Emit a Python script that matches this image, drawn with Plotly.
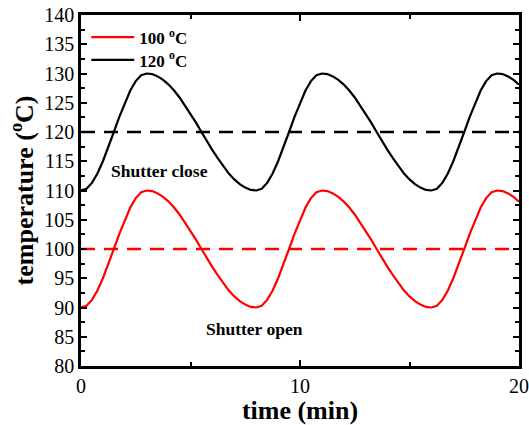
import plotly.graph_objects as go

time_min = [0, 0.25, 0.5, 0.75, 1, 1.25, 1.5, 1.75, 2, 2.25, 2.5, 2.75, 3, 3.25, 3.5, 3.75,
            4, 4.25, 4.5, 4.75, 5, 5.25, 5.5, 5.75, 6, 6.25, 6.5, 6.75, 7, 7.25, 7.5, 7.75,
            8, 8.25, 8.5, 8.75, 9, 9.25, 9.5, 9.75, 10, 10.25, 10.5, 10.75, 11, 11.25, 11.5, 11.75,
            12, 12.25, 12.5, 12.75, 13, 13.25, 13.5, 13.75, 14, 14.25, 14.5, 14.75, 15, 15.25, 15.5, 15.75,
            16, 16.25, 16.5, 16.75, 17, 17.25, 17.5, 17.75, 18, 18.25, 18.5, 18.75, 19, 19.25, 19.5, 19.75, 20]
temp_120 = [110, 110.3, 111.3, 112.9, 115, 117.4, 120, 122.6, 125, 127.1, 128.7, 129.7, 130, 129.9, 129.5, 128.9,
            128.1, 127.1, 125.9, 124.5, 123.1, 121.6, 120, 118.4, 116.9, 115.5, 114.1, 112.9, 111.9, 111.1, 110.5, 110.1,
            110, 110.3, 111.3, 112.9, 115, 117.4, 120, 122.6, 125, 127.1, 128.7, 129.7, 130, 129.9, 129.5, 128.9,
            128.1, 127.1, 125.9, 124.5, 123.1, 121.6, 120, 118.4, 116.9, 115.5, 114.1, 112.9, 111.9, 111.1, 110.5, 110.1,
            110, 110.3, 111.3, 112.9, 115, 117.4, 120, 122.6, 125, 127.1, 128.7, 129.7, 130, 129.9, 129.5, 128.9, 128.1]
temp_100 = [90, 90.3, 91.3, 92.9, 95, 97.4, 100, 102.6, 105, 107.1, 108.7, 109.7, 110, 109.9, 109.5, 108.9,
            108.1, 107.1, 105.9, 104.5, 103.1, 101.6, 100, 98.4, 96.9, 95.5, 94.1, 92.9, 91.9, 91.1, 90.5, 90.1,
            90, 90.3, 91.3, 92.9, 95, 97.4, 100, 102.6, 105, 107.1, 108.7, 109.7, 110, 109.9, 109.5, 108.9,
            108.1, 107.1, 105.9, 104.5, 103.1, 101.6, 100, 98.4, 96.9, 95.5, 94.1, 92.9, 91.9, 91.1, 90.5, 90.1,
            90, 90.3, 91.3, 92.9, 95, 97.4, 100, 102.6, 105, 107.1, 108.7, 109.7, 110, 109.9, 109.5, 108.9, 108.1]
setpoint_x = [0, 20]
setpoint_100 = [100, 100]
setpoint_120 = [120, 120]
series_names = ["100 <sup>o</sup>C", "120 <sup>o</sup>C"]

fig = go.Figure()
fig.add_trace(go.Scatter(x=time_min, y=temp_100, mode="lines", name=series_names[0], legend="legend",
                         line=dict(color="#ff0000", width=2.2)))
fig.add_trace(go.Scatter(x=time_min, y=temp_120, mode="lines", name=series_names[1], legend="legend2",
                         line=dict(color="#000000", width=2.2)))
fig.add_trace(go.Scatter(x=setpoint_x, y=setpoint_100, mode="lines", showlegend=False,
                         line=dict(color="#ff0000", width=2.5, dash="14px,9px")))
fig.add_trace(go.Scatter(x=setpoint_x, y=setpoint_120, mode="lines", showlegend=False,
                         line=dict(color="#000000", width=2.5, dash="14px,9px")))

fig.add_annotation(x=3.6, y=113.4, text="<b>Shutter close</b>", showarrow=False,
                   font=dict(family="Liberation Serif", size=17.5, color="black"))
fig.add_annotation(x=7.9, y=86.4, text="<b>Shutter open</b>", showarrow=False,
                   font=dict(family="Liberation Serif", size=17.5, color="black"))

axis_common = dict(showline=True, linecolor="black", linewidth=2.5, mirror="allticks",
                   ticks="inside", ticklen=6, tickwidth=2, tickcolor="black",
                   showgrid=False, zeroline=False, automargin=False,
                   tickfont=dict(family="Liberation Serif", size=20, color="black"))

fig.update_xaxes(range=[0, 20], tickvals=[0, 10, 20],
                 minor=dict(tickvals=[5, 15], ticks="inside", ticklen=4, tickwidth=2, tickcolor="black"),
                 title=dict(text="<b>time (min)</b>", standoff=2,
                            font=dict(family="Liberation Serif", size=26, color="black")),
                 **axis_common)
fig.update_yaxes(range=[80, 140], dtick=5,
                 minor=dict(dtick=2.5, ticks="inside", ticklen=4, tickwidth=2, tickcolor="black"),
                 title=dict(text="<b>temperature (<sup>o</sup>C)</b>", standoff=4,
                            font=dict(family="Liberation Serif", size=26, color="black")),
                 **axis_common)

legend_common = dict(xanchor="left", yanchor="top", bgcolor="rgba(0,0,0,0)", itemwidth=43,
                     font=dict(family="Liberation Serif", size=17, color="black", weight="bold"))
fig.update_layout(
    width=529, height=425,
    margin=dict(l=81, r=10, t=15, b=59),
    plot_bgcolor="white", paper_bgcolor="white",
    legend=dict(x=0.012, y=0.987, **legend_common),
    legend2=dict(x=0.012, y=0.922, **legend_common),
    font=dict(family="Liberation Serif"),
)

fig.write_html("out.html", config={"displayModeBar": False},
               post_script="document.body.style.margin='0';document.body.style.overflow='hidden';")
